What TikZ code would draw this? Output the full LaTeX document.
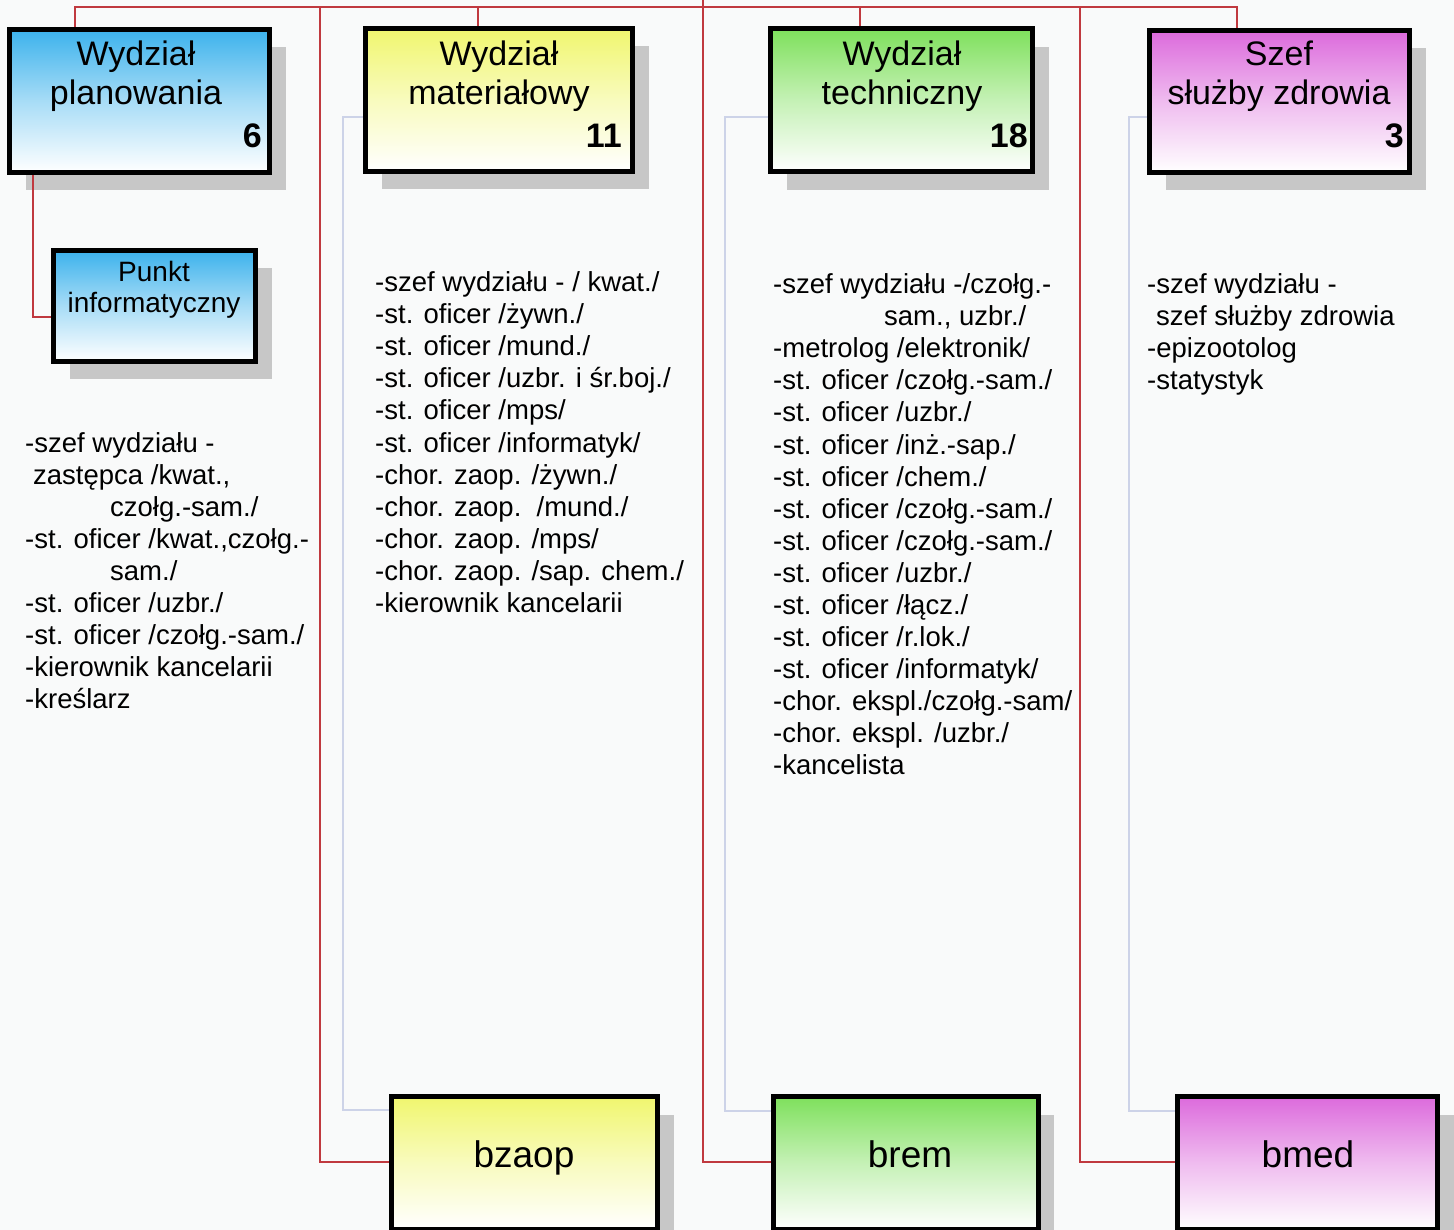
\documentclass[tikz,border=0pt]{standalone}
\usepackage{fontspec}
\setmainfont{Liberation Sans}
\usetikzlibrary{shadows}

\definecolor{planblue}{HTML}{3CB2EC}
\definecolor{matyellow}{HTML}{F0F66E}
\definecolor{techgreen}{HTML}{7EE05C}
\definecolor{medpink}{HTML}{DC6ADC}
\definecolor{linkred}{HTML}{C0393F}
\definecolor{guide}{HTML}{CDD3E8}
\definecolor{paper}{HTML}{F9FAFA}

\tikzset{
  unitbox/.style={draw=black, line width=5pt, inner sep=0pt,
    top color=#1, bottom color=white, middle color=#1!45!white,
    drop shadow={shadow xshift=16pt, shadow yshift=-18pt, fill=black!22, opacity=1}},
  title/.style={align=center, inner sep=0pt, font=\fontsize{34}{39}\selectfont},
  count/.style={anchor=base east, inner sep=0pt, font=\bfseries\fontsize{34}{40}\selectfont},
  branch/.style={anchor=base, inner sep=0pt, font=\fontsize{37}{44}\selectfont},
  duty/.style={anchor=base west, inner sep=0pt, font=\fontsize{27.5}{32}\selectfont},
  link/.style={draw=linkred, line width=1.6pt},
  faint/.style={draw=guide, line width=1.4pt}
}

\begin{document}
\begin{tikzpicture}[x=1pt,y=-1pt]
\useasboundingbox[fill=paper] (0,0) rectangle (1454,1230);

% top row - departments
\node[unitbox=planblue, minimum width=260, minimum height=143] (plan) at (139.5,101) {};
\node[unitbox=matyellow, minimum width=267, minimum height=143] (mat) at (499,100) {};
\node[unitbox=techgreen, minimum width=262, minimum height=143] (tech) at (901.5,100.5) {};
\node[unitbox=medpink, minimum width=260, minimum height=142] (med) at (1279.5,101.5) {};
\node[unitbox=planblue, minimum width=202, minimum height=111] (punkt) at (154.5,306) {};

\node[title] (plan-t) at (136,76) {Wydział\\planowania};
\node[title] (mat-t) at (499,76) {Wydział\\materiałowy};
\node[title] (tech-t) at (902,76) {Wydział\\techniczny};
\node[title] (med-t) at (1279,76) {Szef\\służby zdrowia};
\node[title, font=\fontsize{28}{31.5}\selectfont] (punkt-t) at (154,290) {Punkt\\informatyczny};

\node[count] (plan-n) at (262,148) {6};
\node[count] (mat-n) at (622,148) {11};
\node[count] (tech-n) at (1028,148) {18};
\node[count] (med-n) at (1404,148) {3};

% bottom row - battalions
\node[unitbox=matyellow, minimum width=266, minimum height=133] (bzaop) at (524.5,1163) {};
\node[unitbox=techgreen, minimum width=265, minimum height=133] (brem) at (905.5,1163) {};
\node[unitbox=medpink, minimum width=260, minimum height=133] (bmed) at (1307.5,1163) {};
\node[branch] (bzaop-t) at (524,1167) {bzaop};
\node[branch] (brem-t) at (910,1167) {brem};
\node[branch] (bmed-t) at (1308,1167) {bmed};

% staff lists
\foreach \duty [count=\i from 0] in {-szef wydziału -, \hspace*{8pt}zastępca /kwat.{,},
    \hspace*{85pt}czołg.-sam./, {-st. oficer /kwat.,czołg.-}, \hspace*{85pt}sam./,
    -st. oficer /uzbr./, -st. oficer /czołg.-sam./, -kierownik kancelarii, -kreślarz}
  \node[duty] (plan-l\i) at (25,{452+32*\i}) {\duty};

\foreach \duty [count=\i from 0] in {-szef wydziału - / kwat./, -st. oficer /żywn./,
    -st. oficer /mund./, -st. oficer /uzbr. i śr.boj./, -st. oficer /mps/,
    -st. oficer /informatyk/, -chor. zaop. /żywn./, -chor. zaop.\ \ /mund./,
    -chor. zaop. /mps/, -chor. zaop. /sap. chem./, -kierownik kancelarii}
  \node[duty] (mat-l\i) at (375,{292+32*\i}) {\duty};

\foreach \duty [count=\i from 0] in {-szef wydziału -/czołg.-, {\hspace*{111pt}sam., uzbr./},
    -metrolog /elektronik/, -st. oficer /czołg.-sam./, -st. oficer /uzbr./,
    -st. oficer /inż.-sap./, -st. oficer /chem./, -st. oficer /czołg.-sam./,
    -st. oficer /czołg.-sam./, -st. oficer /uzbr./, -st. oficer /łącz./,
    -st. oficer /r.lok./, -st. oficer /informatyk/, -chor. ekspl./czołg.-sam/,
    -chor. ekspl. /uzbr./, -kancelista}
  \node[duty] (tech-l\i) at (773,{294+32*\i}) {\duty};

\foreach \duty [count=\i from 0] in {-szef wydziału -, \hspace*{9pt}szef służby zdrowia,
    -epizootolog, -statystyk}
  \node[duty] (med-l\i) at (1147,{294+32*\i}) {\duty};

% red links
\coordinate (bus-w) at (75,7);
\coordinate (bus-e) at (1237,7);
\coordinate (mat-in) at (478,7);
\coordinate (tech-in) at (860,7);
\coordinate (drop-a) at (320,7);
\coordinate (root) at (703,-5);
\coordinate (drop-c) at (1080,7);
\coordinate (plan-drop) at (33,200);
\draw[link] (plan.north -| bus-w) -- (bus-w) -- (bus-e) -- (med.north -| bus-e);
\draw[link] (mat-in) -- (mat-in |- mat.north);
\draw[link] (tech-in) -- (tech-in |- tech.north);
\draw[link] (drop-a) |- ([yshift=1pt]bzaop.west);
\draw[link] (root) |- ([yshift=1pt]brem.west);
\draw[link] (drop-c) |- ([yshift=1pt]bmed.west);
\draw[link] (plan-drop |- plan.south) |- ([yshift=-11pt]punkt.west);

% light guide lines
\coordinate (mat-g) at (343,117);
\coordinate (tech-g) at (725,117);
\coordinate (med-g) at (1129,117);
\draw[faint] (mat-g -| mat.west) -- (mat-g) |- ([yshift=53pt]bzaop.west);
\draw[faint] (tech-g -| tech.west) -- (tech-g) |- ([yshift=52pt]brem.west);
\draw[faint] (med-g -| med.west) -- (med-g) |- ([yshift=52pt]bmed.west);
\end{tikzpicture}
\end{document}
